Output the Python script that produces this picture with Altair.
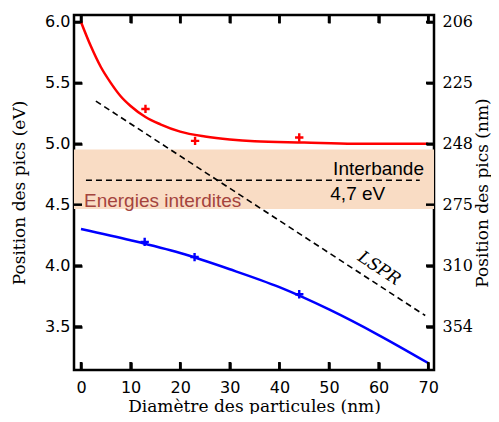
import altair as alt
import pandas as pd

# ---- axis ticks / labels ----
x_ticks = [0, 10, 20, 30, 40, 50, 60, 70]
ev_ticks = [6.0, 5.5, 5.0, 4.5, 4.0, 3.5]
nm_labels = ["206", "225", "248", "275", "310", "354"]
x_domain = [-1.41, 71.17]
y_domain = [3.143, 6.057]

# ---- red (interband) fitted curve ----
red_x = [0, 2, 4, 6, 8, 10, 13, 16, 20, 25, 30, 35, 45, 55, 70]
red_y = [6.00, 5.80, 5.63, 5.50, 5.39, 5.31, 5.22, 5.16, 5.10, 5.06, 5.035, 5.02, 5.01, 5.00, 5.00]
red_pts_x = [13, 23, 44]
red_pts_y = [5.286, 5.024, 5.051]

# ---- blue (LSPR) fitted curve ----
blue_x = [0, 10, 20, 30, 40, 50, 60, 70]
blue_y = [4.30, 4.208, 4.103, 3.97, 3.823, 3.64, 3.43, 3.20]
blue_pts_x = [12.84, 22.9, 44.0]
blue_pts_y = [4.195, 4.07, 3.765]

# ---- dashed guide lines ----
lspr_x = [3.0, 69.4]
lspr_y = [5.35, 3.59]
inter_x = [1.0, 68.3]
inter_y = [4.7, 4.7]

# ---- forbidden band ----
band_lo = [4.465]
band_hi = [4.953]

# ---- annotations ----
ann_energ = {"x": [0.6], "y": [4.485], "t": ["Energies interdites"]}
ann_inter = {"x": [69.15], "y": [4.743], "t": ["Interbande"]}
ann_47 = {"x": [55.8], "y": [4.540], "t": ["4,7 eV"]}
ann_lspr = {"x": [60.1], "y": [3.976], "t": ["LSPR"]}

W, H = 360, 355
TICK = 8
sx = (x_domain[1] - x_domain[0]) / W
sy = (y_domain[1] - y_domain[0]) / H

xscale = alt.Scale(domain=x_domain, nice=False, zero=False)
yscale = alt.Scale(domain=y_domain, nice=False, zero=False)

common = dict(grid=False, domain=False, ticks=True, tickSize=TICK, tickWidth=2.5,
              tickColor="black", offset=-TICK, labelColor="black",
              titleFont="DejaVu Serif", titleFontSize=17, titleFontWeight="normal",
              titleColor="black")

x_axis = alt.Axis(orient="bottom", values=x_ticks, title="Diamètre des particules (nm)",
                  labelPadding=9, labelFont="DejaVu Sans", labelFontSize=16,
                  titlePadding=3, **common)
x_axis_top = alt.Axis(orient="top", values=x_ticks, title=None, labels=False, **common)
y_axis = alt.Axis(orient="left", values=ev_ticks, title="Position des pics (eV)",
                  labelPadding=4, format=".1f", labelFont="DejaVu Sans", labelFontSize=16,
                  titlePadding=16, **common)

label_expr = " : ".join(
    f"datum.value == {v} ? '{l}'" for v, l in zip(ev_ticks, nm_labels)) + " : ''"
y_axis_right = alt.Axis(orient="right", values=ev_ticks, title="Position des pics (nm)",
                        labelPadding=8, labelExpr=label_expr, labelFont="DejaVu Serif",
                        labelFontSize=16, titlePadding=2, titleAngle=270,
                        titleBaseline="top", **common)

X = alt.X("x:Q", scale=xscale, axis=x_axis)
Y = alt.Y("y:Q", scale=yscale, axis=y_axis)
Xn = alt.X("x:Q", scale=xscale, axis=None)
Yn = alt.Y("y:Q", scale=yscale, axis=None)

def df(xs, ys):
    return pd.DataFrame({"x": xs, "y": ys})

band = alt.Chart(pd.DataFrame({"y": band_lo, "y2": band_hi})).mark_rect(
    color="#F9DCC4").encode(y=Y, y2="y2:Q")

red_line = alt.Chart(df(red_x, red_y)).mark_line(
    color="#FF0000", strokeWidth=2.5, interpolate="monotone").encode(x=X, y=Y)
blue_line = alt.Chart(df(blue_x, blue_y)).mark_line(
    color="#0000FF", strokeWidth=2.5, interpolate="monotone").encode(x=X, y=Y)

plus = "M-1,0H1M0,-1V1"
red_pts = alt.Chart(df(red_pts_x, red_pts_y)).mark_point(
    shape=plus, size=70, filled=False, stroke="#FF0000", strokeWidth=2.4, opacity=1).encode(x=X, y=Y)
blue_pts = alt.Chart(df(blue_pts_x, blue_pts_y)).mark_point(
    shape=plus, size=70, filled=False, stroke="#0000FF", strokeWidth=2.4, opacity=1).encode(x=X, y=Y)

lspr = alt.Chart(df(lspr_x, lspr_y)).mark_line(
    color="black", strokeWidth=1.6, strokeDash=[6, 4]).encode(x=X, y=Y)
inter = alt.Chart(df(inter_x, inter_y)).mark_line(
    color="black", strokeWidth=1.6, strokeDash=[6, 4]).encode(x=X, y=Y)

t_energ = alt.Chart(pd.DataFrame(ann_energ)).mark_text(
    align="left", baseline="alphabetic", font="Liberation Sans", fontSize=19,
    color="#A4433D").encode(x=X, y=Y, text="t:N")
t_inter = alt.Chart(pd.DataFrame(ann_inter)).mark_text(
    align="right", baseline="alphabetic", font="Liberation Sans", fontSize=19,
    color="black").encode(x=X, y=Y, text="t:N")
t_47 = alt.Chart(pd.DataFrame(ann_47)).mark_text(
    align="center", baseline="alphabetic", font="Liberation Sans", fontSize=19,
    color="black").encode(x=X, y=Y, text="t:N")
t_lspr = alt.Chart(pd.DataFrame(ann_lspr)).mark_text(
    align="center", baseline="middle", font="DejaVu Serif", fontStyle="italic",
    fontSize=17, angle=33.4, color="black").encode(x=X, y=Y, text="t:N")

main = alt.layer(band, inter, lspr, red_line, blue_line, red_pts, blue_pts,
                 t_energ, t_inter, t_47, t_lspr)

# carriers for the top (ticks only) and right (nm) axes
top_carrier = alt.Chart(pd.DataFrame({"x": x_ticks})).mark_point(opacity=0).encode(
    x=alt.X("x:Q", scale=xscale, axis=x_axis_top))
right_carrier = alt.Chart(pd.DataFrame({"y": ev_ticks})).mark_point(opacity=0).encode(
    y=alt.Y("y:Q", scale=yscale, axis=y_axis_right))

# inward tick segments drawn as marks as well (same positions as the axis ticks)
seg_rows = []
for i, v in enumerate(x_ticks):
    seg_rows += [{"k": f"b{i}", "x": v, "y": y_domain[0]},
                 {"k": f"b{i}", "x": v, "y": y_domain[0] + TICK * sy},
                 {"k": f"t{i}", "x": v, "y": y_domain[1] - TICK * sy},
                 {"k": f"t{i}", "x": v, "y": y_domain[1]}]
for i, v in enumerate(ev_ticks):
    seg_rows += [{"k": f"l{i}", "x": x_domain[0], "y": v},
                 {"k": f"l{i}", "x": x_domain[0] + TICK * sx, "y": v},
                 {"k": f"r{i}", "x": x_domain[1] - TICK * sx, "y": v},
                 {"k": f"r{i}", "x": x_domain[1], "y": v}]
tick_marks = alt.Chart(pd.DataFrame(seg_rows)).mark_line(
    color="black", strokeWidth=2.5).encode(x=Xn, y=Yn, detail="k:N")

chart = alt.layer(main, top_carrier, right_carrier, tick_marks).resolve_axis(
    x="independent", y="independent").properties(
    width=W, height=H,
    autosize=alt.AutoSizeParams(type="none"),
    padding={"left": 66, "top": 7, "right": 57, "bottom": 44},
    background="white",
).configure_view(stroke="black", strokeWidth=2.5)

chart.save("out.html", embed_options={"renderer": "svg", "actions": False})
